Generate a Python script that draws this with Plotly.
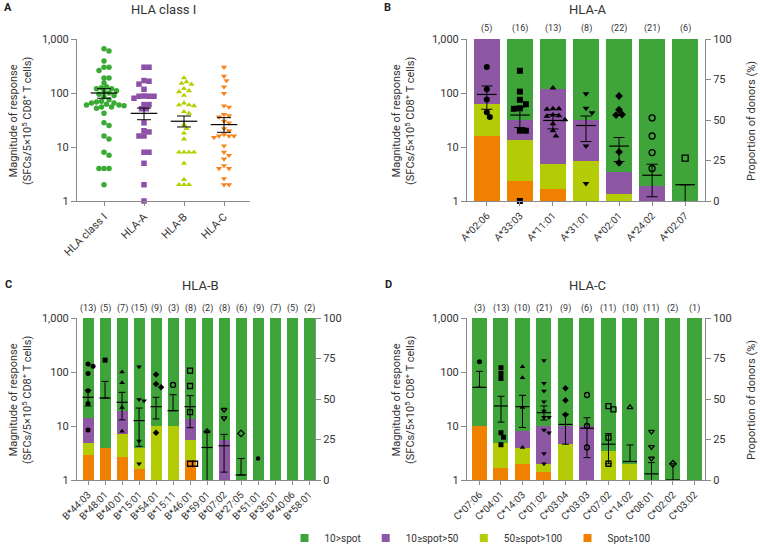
import numpy as np
import plotly.graph_objects as go

# ------------------------------------------------------------------ data
A_groups = ["HLA class I", "HLA-A", "HLA-B", "HLA-C"]
A_classI = [660, 600, 390, 300, 300, 262, 190, 190, 155, 130, 125, 120, 120, 110, 105, 100,
            95, 90, 85, 75, 70, 68, 65, 65, 62, 60, 60, 58, 55, 55, 52, 42, 28, 25, 16, 14,
            8, 7, 4, 4, 4, 2]
A_hlaA = [300, 300, 170, 165, 146, 117, 88, 87, 87, 87, 80, 61, 61, 51, 51, 28, 20, 19, 16,
          16, 8, 8, 5, 2, 1]
A_hlaB = [190, 160, 150, 145, 120, 110, 105, 90, 65, 60, 60, 58, 45, 42, 26, 22, 18, 14,
          8, 8, 8, 8, 5, 2.5, 2, 2, 2]
A_hlaC = [300, 205, 170, 130, 98, 58, 55, 40, 38, 36, 30, 28, 22, 20, 17, 16, 16, 16, 15,
          10.5, 8, 7, 6, 4.5, 4, 4, 2.6, 2, 2]
A_mean = [100, 42, 30, 26]
A_hi = [120, 52.6, 37.5, 35]
A_lo = [80, 32, 23.5, 18.7]

B_alleles = ["A*02:06", "A*33:03", "A*11:01", "A*31:01", "A*02:01", "A*24:02", "A*02:07"]
B_n = [5, 16, 13, 8, 22, 21, 6]
B_spot100 = [40, 12.5, 7.7, 0, 0, 0, 0]
B_spot50_100 = [20, 25, 15.4, 25, 4.5, 0, 0]
B_spot10_50 = [40, 12.5, 46.2, 25, 13.6, 9.5, 0]
B_spot_lt10 = [0, 50, 30.7, 50, 81.9, 90.5, 100]
B_points = [[302, 117, 76, 44, 36],
            [258, 106, 75, 62, 52, 51, 20, 20, 1],
            [124, 51, 51, 50, 39, 38, 37, 32, 27, 20, 16],
            [97, 52, 43, 10.4, 2.1],
            [88, 49, 40, 39, 8.1, 5.1],
            [34.5, 16, 7.9, 4],
            [6.2]]
B_mean = [94, 39, 31, 25, 10.4, 3.0, 2.0]
B_hi = [135, 55, 40, 37.5, 15, 4.8, 2.0]
B_lo = [50, 23, 21.6, 12.6, 5.4, 1.2, 0.5]

C_alleles = ["B*44:03", "B*48:01", "B*40:01", "B*15:01", "B*54:01", "B*15:11", "B*46:01",
             "B*59:01", "B*07:02", "B*27:05", "B*51:01", "B*35:01", "B*40:06", "B*58:01"]
C_n = [13, 5, 7, 15, 9, 3, 8, 2, 8, 6, 9, 7, 5, 2]
C_spot100 = [15.4, 20, 14.3, 6.7, 0, 0, 12.5, 0, 0, 0, 0, 0, 0, 0]
C_spot50_100 = [7.7, 0, 14.3, 13.3, 33.3, 33.3, 12.5, 0, 0, 0, 0, 0, 0, 0]
C_spot10_50 = [15.4, 0, 14.3, 0, 0, 0, 12.5, 0, 25, 0, 0, 0, 0, 0]
C_spot_lt10 = [61.5, 80, 57.1, 80, 66.7, 66.7, 62.5, 100, 75, 100, 100, 100, 100, 100]
C_points = [[140, 128, 94, 45, 26, 8.4], [166], [100, 63, 22, 8],
            [125, 31, 29.5, 5.3, 2.0], [90, 60, 52, 7.5], [57.6],
            [106, 55, 18, 2, 2], [8], [20, 14], [7.3], [2.5], [], [], []]
C_mean = [34, 33, 27.5, 12.6, 22.8, 19.2, 22.8, 4.0, 4.3, 1.24, None, None, None, None]
C_hi = [46, 67, 42, 21.5, 34, 38, 36.5, 8, 7.0, 2.5, None, None, None, None]
C_lo = [23.5, 33, 13, 4.2, 13.5, 19.2, 9.3, 0.5, 1.4, 1.24, None, None, None, None]

D_alleles = ["C*07:06", "C*04:01", "C*14:03", "C*01:02", "C*03:04", "C*03:03", "C*07:02",
             "C*14:02", "C*08:01", "C*02:02", "C*03:02"]
D_n = [3, 13, 10, 21, 9, 6, 11, 10, 11, 2, 1]
D_spot100 = [33.3, 7.7, 10, 4.8, 0, 0, 0, 0, 0, 0, 0]
D_spot50_100 = [0, 15.4, 10, 4.8, 22.2, 0, 18.2, 10, 0, 0, 0]
D_spot10_50 = [0, 0, 10, 23.8, 11.1, 33.3, 0, 0, 0, 0, 0]
D_spot_lt10 = [66.7, 76.9, 70, 66.6, 66.7, 66.7, 81.8, 90, 100, 100, 100]
D_points = [[155], [120, 94, 76, 7.5, 6.2, 4.5], [125, 78, 22, 4],
            [163, 62, 44.5, 28, 19, 14.5, 14.5, 8.4, 7.5, 3.1, 2.0],
            [50, 30, 16.2], [37.5, 10, 4], [23.4, 20.3, 6.1, 2.0], [22.2],
            [7.9, 4.1, 2.5], [2.0], []]
D_mean = [52, 23.5, 22.8, 17.7, 10.7, 9.1, 4.6, 2.2, 1.3, 1.0, None]
D_hi = [103, 35.5, 37, 23.5, 16.5, 14.2, 7.2, 4.45, 2.1, 2.0, None]
D_lo = [52, 11.8, 9.4, 12.9, 4.6, 2.6, 2.0, 2.2, 0.5, 0.5, None]

LEG_NAMES = ["Spot≥100", "50≥spot>100", "10≥spot>50", "10>spot"]
LEG_COLORS = ["#f08000", "#b3cc06", "#8e57a4", "#3fa53a"]
A_COLORS = ["#3aaa35", "#8c50a8", "#b5d000", "#f7831a"]
A_SYMBOLS = ["circle", "square", "triangle-up", "triangle-down"]
SYMBOLS = ["circle", "square", "triangle-up", "triangle-down", "diamond", "circle-open",
           "square-open", "triangle-up-open", "triangle-down-open", "diamond-open", "circle"]

# ------------------------------------------------------------------ helpers
W, H = 760, 553
AXC = "#8a8a8a"
TXT = "#333333"
FONT = "Roboto"


def fx(px):
    return px / W


def fy(py):
    return 1 - py / H


def swarm(values, d_px, px_per_cat, px_per_decade=54.0):
    v = np.asarray(values, float)
    ypx = np.log10(v) * px_per_decade
    order = np.argsort(-v, kind="stable")
    placed = []
    offs = np.zeros(len(v))
    cands = [0.0]
    for k in range(1, 30):
        cands += [k * 0.5 * d_px, -k * 0.5 * d_px]
    for i in order:
        for c in cands:
            ok = all((c - px) ** 2 + (ypx[i] - py) ** 2 >= (0.92 * d_px) ** 2 for px, py in placed)
            if ok:
                offs[i] = c
                placed.append((c, ypx[i]))
                break
    return offs / px_per_cat


def ax_common(**kw):
    d = dict(showgrid=False, zeroline=False, showline=True, linecolor=AXC, linewidth=1,
             ticks="outside", ticklen=5, tickcolor=AXC, tickwidth=1,
             tickfont=dict(size=11, color=TXT, family=FONT), automargin=False,
             fixedrange=True)
    d.update(kw)
    return d


def log_axis(**kw):
    return ax_common(type="log", range=[0, 3], tickvals=[1, 10, 100, 1000],
                     ticktext=["1", "10", "100", "1,000"], **kw)


def add_mean(fig, xa, ya, mean, hi, lo, msize, cap):
    idx = [i for i, m in enumerate(mean) if m is not None]
    m = np.array([mean[i] for i in idx], float)
    h = np.array([hi[i] for i in idx], float)
    l = np.array([lo[i] for i in idx], float)
    fig.add_trace(go.Scatter(
        x=idx, y=m, mode="markers", xaxis=xa, yaxis=ya, showlegend=False, hoverinfo="skip",
        marker=dict(symbol="line-ew", size=msize, color="black",
                    line=dict(color="black", width=1.2)),
        error_y=dict(type="data", symmetric=False, array=h - m, arrayminus=m - l,
                     width=cap, thickness=1, color="black")))


fig = go.Figure()

# ------------------------------------------------------------------ panel A
for i, (vals, col, sym) in enumerate(zip([A_classI, A_hlaA, A_hlaB, A_hlaC], A_COLORS, A_SYMBOLS)):
    offs = swarm(vals, 5.0, 40.0)
    fig.add_trace(go.Scatter(x=i + offs, y=vals, mode="markers", xaxis="x", yaxis="y",
                             showlegend=False, cliponaxis=False, hoverinfo="skip",
                             marker=dict(symbol=sym, size=5.5, color=col, line=dict(width=0))))
add_mean(fig, "x", "y", A_mean, A_hi, A_lo, 19, 7)


# ------------------------------------------------------------------ panels B-D
def add_panel(xa, ybar, ylog, pcts, points, mean, hi, lo, width, msize, mean_size, cap,
              px_per_cat):
    xs = list(range(len(pcts[0])))
    for name, color, vals in zip(LEG_NAMES, LEG_COLORS, pcts):
        fig.add_trace(go.Bar(x=xs, y=vals, width=width, name=name, legendgroup=name,
                             showlegend=False, xaxis=xa, yaxis=ybar, hoverinfo="skip",
                             marker=dict(color=color, line=dict(width=0))))
    for i, vals in enumerate(points):
        if not vals:
            continue
        offs = swarm(vals, msize, px_per_cat)
        sym = SYMBOLS[i]
        is_open = sym.endswith("-open")
        size = msize if i != 10 else msize - 0.5
        fig.add_trace(go.Scatter(
            x=i + offs, y=vals, mode="markers", xaxis=xa, yaxis=ylog, showlegend=False,
            cliponaxis=False, hoverinfo="skip",
            marker=dict(symbol=sym, size=size, color="black",
                        line=dict(color="black", width=1.3 if is_open else 0))))
    add_mean(fig, xa, ylog, mean, hi, lo, mean_size, cap)


add_panel("x2", "y2", "y3", [B_spot100, B_spot50_100, B_spot10_50, B_spot_lt10],
          B_points, B_mean, B_hi, B_lo, 0.78, 6, 14, 5.5, 33.0)
add_panel("x3", "y4", "y5", [C_spot100, C_spot50_100, C_spot10_50, C_spot_lt10],
          C_points, C_mean, C_hi, C_lo, 0.65, 5, 8, 3.5, 17.0)
add_panel("x4", "y6", "y7", [D_spot100, D_spot50_100, D_spot10_50, D_spot_lt10],
          D_points, D_mean, D_hi, D_lo, 0.70, 5, 10, 3.5, 21.5)

# legend entries (small square keys)
for name, color in zip(LEG_NAMES[::-1], LEG_COLORS[::-1]):
    fig.add_trace(go.Scatter(x=[None], y=[None], mode="markers", name=name,
                             xaxis="x2", yaxis="y2", showlegend=True, hoverinfo="skip",
                             marker=dict(symbol="square", size=8, color=color)))

# ------------------------------------------------------------------ layout
domA_x = [fx(77), fx(250)]
domB_x = [fx(467), fx(705)]
domC_x = [fx(77), fx(315)]
dom_top = [fy(201), fy(39)]
dom_bot = [fy(480), fy(318)]

pct_kw = dict(range=[0, 100], tickvals=[0, 25, 50, 75, 100], side="right")


def cat_axis(labels, rng, dom, anchor, size):
    return ax_common(domain=dom, anchor=anchor, range=rng, tickmode="array",
                     tickvals=list(range(len(labels))), ticktext=labels, tickangle=-45,
                     tickfont=dict(size=size, color=TXT, family=FONT), ticklen=4)


fig.update_layout(
    width=W, height=H, margin=dict(l=0, r=0, t=0, b=0),
    paper_bgcolor="white", plot_bgcolor="white",
    font=dict(family=FONT, color=TXT),
    barmode="stack", template="none",
    xaxis=cat_axis(A_groups, [-0.675, 3.65], domA_x, "y", 11),
    yaxis=log_axis(domain=dom_top, anchor="x"),
    xaxis2=cat_axis(B_alleles, [-0.6, 6.6], domB_x, "y2", 10),
    yaxis2=ax_common(domain=dom_top, anchor="x2", **pct_kw),
    yaxis3=log_axis(overlaying="y2", anchor="x2", side="left"),
    xaxis3=cat_axis(C_alleles, [-0.65, 13.35], domC_x, "y4", 10),
    yaxis4=ax_common(domain=dom_bot, anchor="x3", **pct_kw),
    yaxis5=log_axis(overlaying="y4", anchor="x3", side="left"),
    xaxis4=cat_axis(D_alleles, [-0.58, 10.49], domB_x, "y6", 10),
    yaxis6=ax_common(domain=dom_bot, anchor="x4", **pct_kw),
    yaxis7=log_axis(overlaying="y6", anchor="x4", side="left"),
    legend=dict(orientation="h", x=fx(470), xanchor="center", y=fy(538), yanchor="middle",
                traceorder="normal", font=dict(size=10, color=TXT, family=FONT),
                itemwidth=30, itemsizing="trace", bgcolor="rgba(0,0,0,0)"),
    showlegend=True,
)

ann = []
left_title = "Magnitude of response<br>(SFCs/5×10<sup>5</sup> CD8<sup>+</sup> T cells)"
for (x, y) in [(20, 121), (403, 121), (20, 400), (403, 400)]:
    ann.append(dict(text=left_title, x=fx(x), y=fy(y), xref="paper", yref="paper",
                    textangle=-90, showarrow=False, font=dict(size=11, color=TXT),
                    xanchor="center", yanchor="middle"))
for (x, y) in [(751, 121), (751, 400)]:
    ann.append(dict(text="Proportion of donors (%)", x=fx(x), y=fy(y), xref="paper",
                    yref="paper", textangle=-90, showarrow=False,
                    font=dict(size=11, color=TXT), xanchor="center", yanchor="middle"))
for (t, x, y) in [("HLA class I", 163, 9), ("HLA-A", 587, 9), ("HLA-B", 200, 285),
                  ("HLA-C", 587, 285)]:
    ann.append(dict(text=t, x=fx(x), y=fy(y), xref="paper", yref="paper", showarrow=False,
                    font=dict(size=13, color=TXT), xanchor="center", yanchor="middle"))
for (t, x, y) in [("A", 8, 8), ("B", 387, 8), ("C", 8, 284), ("D", 388, 284)]:
    ann.append(dict(text="<b>%s</b>" % t, x=fx(x), y=fy(y), xref="paper", yref="paper",
                    showarrow=False, font=dict(size=11, color="#222"),
                    xanchor="center", yanchor="middle"))
for xa, counts, yy in [("x2", B_n, 29), ("x3", C_n, 308), ("x4", D_n, 308)]:
    for i, n in enumerate(counts):
        ann.append(dict(text="(%d)" % n, x=i, y=fy(yy), xref=xa, yref="paper",
                        showarrow=False, font=dict(size=9, color=TXT),
                        xanchor="center", yanchor="middle"))
fig.update_layout(annotations=ann)

fig.write_html("out.html", config={"displayModeBar": False},
               post_script="document.body.style.margin='0px';"
                           "document.body.style.overflow='hidden';")
